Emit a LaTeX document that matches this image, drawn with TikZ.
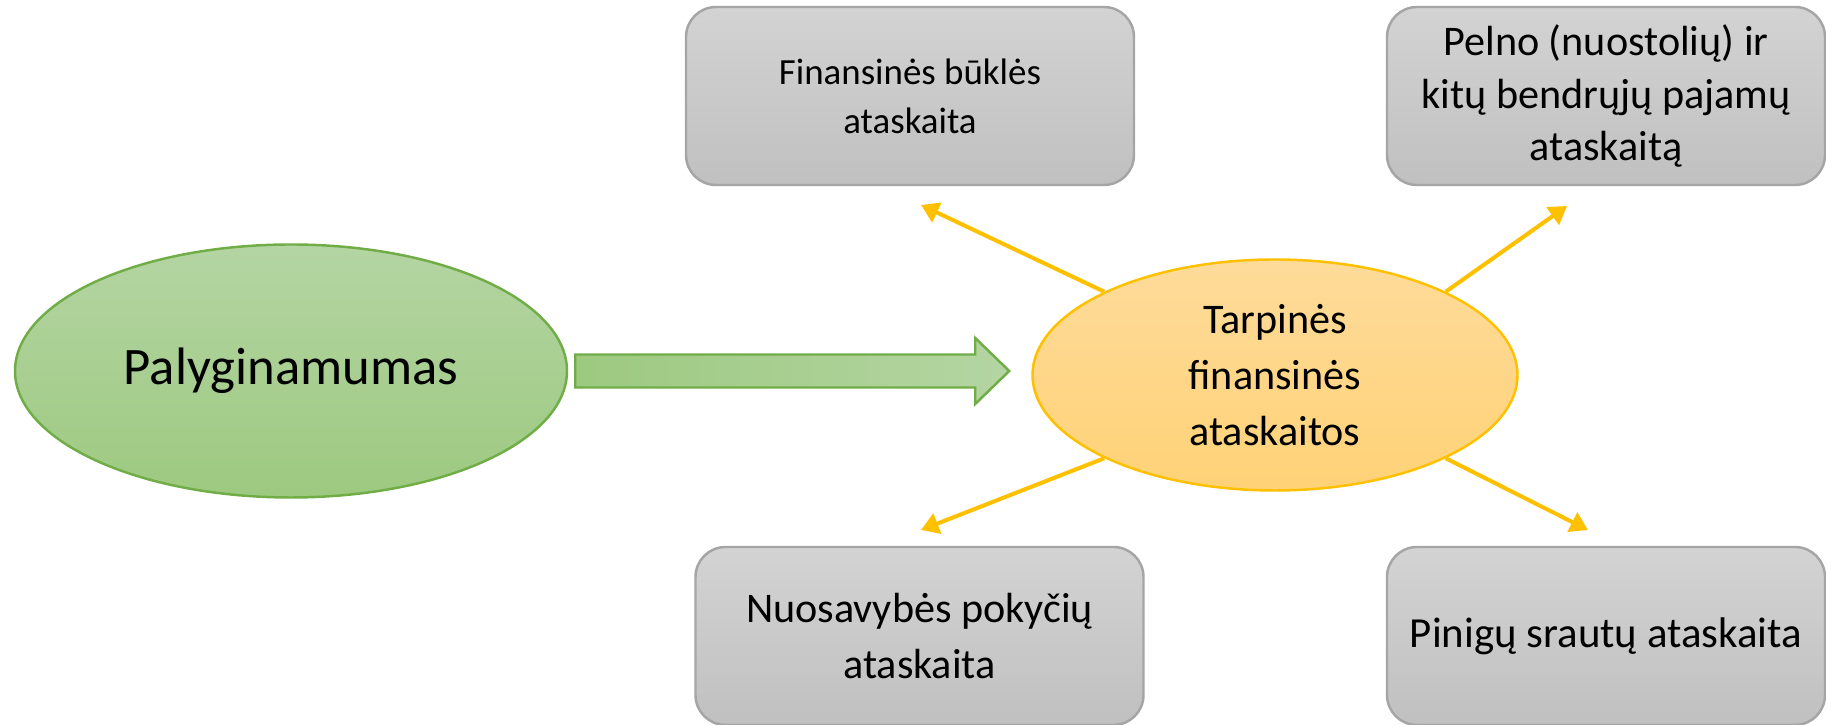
\documentclass[tikz,border=0pt]{standalone}
\usepackage{fontspec}
\setmainfont{Carlito}
\usepackage{tikz}
\usetikzlibrary{arrows.meta,shapes.geometric,positioning,calc}
\definecolor{grnline}{HTML}{70AD47}
\definecolor{grntop}{HTML}{B4D5A3}
\definecolor{grnbot}{HTML}{9DC980}
\definecolor{goldline}{HTML}{FFC000}
\definecolor{goldtop}{HTML}{FEDB9A}
\definecolor{goldbot}{HTML}{FFD277}
\definecolor{boxline}{HTML}{A5A5A5}
\definecolor{boxtop}{HTML}{D3D3D3}
\definecolor{boxbot}{HTML}{C0C0C0}

\begin{document}
\begin{tikzpicture}[report/.style={rectangle, rounded corners=0.3cm, draw=boxline, line width=0.7pt, top color=boxtop, bottom color=boxbot, minimum width=4.48cm, minimum height=1.78cm, align=center, font=\fontsize{12}{15}\selectfont},
oval/.style={ellipse, inner sep=0pt, align=center, line width=0.7pt},
link/.style={draw=goldline, line width=1.15pt, -{Triangle[width=6pt,length=5pt]}}]
\useasboundingbox (0,0) rectangle (18.26,7.25);

\node [oval, draw=grnline, top color=grntop, bottom color=grnbot, minimum width=5.52cm, minimum height=2.53cm, font=\fontsize{15}{18}\selectfont] (pal) at (2.91,3.54) {Palyginamumas};
\node [oval, draw=goldline, top color=goldtop, bottom color=goldbot, minimum width=4.85cm, minimum height=2.31cm, font=\fontsize{12}{16}\selectfont] (tarp) at (12.75,3.50) {Tarpinės\\finansinės\\ataskaitos};

\draw [draw=grnline, line width=0.7pt, left color=grnbot, right color=grntop] ($(pal.east)+(0.07,0.165)$) -- ++(4,0) -- ++(0,0.165) -- ($(pal.east)+(4.41,0)$) -- ++(-0.34,-0.33) -- ++(0,0.165) -- ++(-4,0) -- cycle;

\node [report, font=\fontsize{10.5}{14}\selectfont] (fin) at (9.10,6.29) {Finansinės būklės\\ataskaita};
\node [report, minimum width=4.38cm] (peln) at (16.06,6.29) {Pelno (nuostolių) ir\\kitų bendrųjų pajamų\\ataskaitą};
\node [report, font=\fontsize{12}{16}\selectfont] (nuos) at (9.195,0.89) {Nuosavybės pokyčių\\ataskaita};
\node [report, minimum width=4.38cm, font=\fontsize{12.2}{15}\selectfont] (pin) at (16.06,0.89) {Pinigų srautų ataskaita};

\coordinate (fin_tip) at (9.21,5.20);
\coordinate (peln_tip) at (15.67,5.19);
\coordinate (nuos_tip) at (9.21,1.95);
\coordinate (pin_tip) at (15.88,1.95);

\draw [link] (tarp.154) -- (fin_tip);
\draw [link] (tarp.26) -- (peln_tip);
\draw [link] (tarp.206) -- (nuos_tip);
\draw [link] (tarp.334) -- (pin_tip);

\end{tikzpicture}
\end{document}
